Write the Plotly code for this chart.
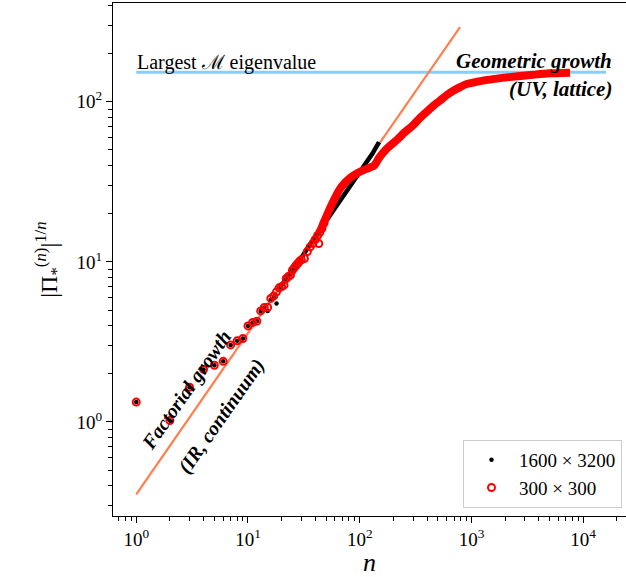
import plotly.graph_objects as go

# ---------------- data ----------------
# 1600 x 3200 lattice: isolated points at small n
black_n = [1, 2, 3, 4, 5, 6, 7, 8, 9, 10, 11, 12, 13, 14, 15, 16, 17, 18]
black_y = [1.33, 1.02, 1.65, 2.13, 2.26, 2.39, 3.03, 3.21, 3.32, 3.98, 4.18, 4.26, 4.94, 5.19, 4.94, 5.8, 6.0, 5.5]
# 1600 x 3200 lattice: dense part
black_dense_n = [19, 22, 25, 30, 35, 40, 50, 60, 70, 80, 90, 100, 115, 130, 149]
black_dense_y = [6.8, 7.8, 8.8, 10.6, 12.5, 14.3, 18.0, 21.8, 25.5, 29.2, 32.8, 36.5, 42.0, 47.5, 56.0]

# 300 x 300 lattice: isolated points
red_n = [1, 2, 3, 4, 5, 6, 7, 8, 9, 10, 11, 12, 13, 14, 15, 16, 17, 18, 19, 20,
         21, 22, 23, 24, 25, 26, 27, 28, 29, 30, 32, 34, 36, 38, 40, 42, 43, 44, 46, 48]
red_y = [1.33, 1.02, 1.65, 2.13, 2.26, 2.39, 3.03, 3.21, 3.32, 3.98, 4.18, 4.26, 4.94, 5.19, 5.2, 5.91, 6.13, 6.5, 6.88, 7.0,
         7.15, 7.87, 8.1, 8.26, 8.87, 9.2, 9.53, 9.8, 10.1, 10.3, 10.5, 11.6, 12.4, 13.0, 13.8, 14.6, 13.0, 15.3, 16.2, 17.5]
# 300 x 300 lattice: dense part
red_dense_n = [44, 48, 54, 60, 66, 74, 82, 95, 108, 122, 135, 150, 175, 214, 250, 301, 350, 400, 460, 526, 600,
               700, 800, 908, 1100, 1300, 1550, 1803, 2600, 3556, 5000, 7620]
red_dense_y = [15.3, 17.8, 21.5, 25.0, 28.3, 31.3, 33.5, 35.8, 37.4, 38.7, 40.0, 45.0, 51.0, 57.6, 64.0, 71.5, 80.0, 87.0, 95.0, 102.0, 110.0,
               118.0, 124.0, 129.0, 133.0, 136.0, 138.5, 140.5, 144.5, 147.5, 150.5, 152.0]

# reference lines
factorial_n = [1, 790]
factorial_y = [0.353, 293]
eigen_n = [1, 16000]
eigen_y = [153, 153]

x_tickvals = [1, 10, 100, 1000, 10000]
x_ticktext = ["10<sup>0</sup>", "10<sup>1</sup>", "10<sup>2</sup>", "10<sup>3</sup>", "10<sup>4</sup>"]
y_tickvals = [1, 10, 100]
y_ticktext = ["10<sup>0</sup>", "10<sup>1</sup>", "10<sup>2</sup>"]

FONT = "Liberation Serif"

fig = go.Figure()

fig.add_trace(go.Scatter(x=eigen_n, y=eigen_y, mode="lines",
                         line=dict(color="#87CEFA", width=3), showlegend=False, hoverinfo="skip"))
fig.add_trace(go.Scatter(x=factorial_n, y=factorial_y, mode="lines",
                         line=dict(color="#FF7F50", width=2.2), showlegend=False, hoverinfo="skip"))

# black
fig.add_trace(go.Scatter(x=black_dense_n, y=black_dense_y, mode="lines",
                         line=dict(color="black", width=4.5), legendgroup="b", showlegend=False))
fig.add_trace(go.Scatter(x=black_n, y=black_y, mode="markers", name="1600 × 3200",
                         marker=dict(color="black", size=4.5), legendgroup="b"))
# red
fig.add_trace(go.Scatter(x=red_dense_n, y=red_dense_y, mode="lines",
                         line=dict(color="red", width=8, shape="spline", smoothing=0.6),
                         legendgroup="r", showlegend=False))
fig.add_trace(go.Scatter(x=red_n, y=red_y, mode="markers", name="300 × 300",
                         marker=dict(symbol="circle-open", color="red", size=7, line=dict(width=2, color="red")),
                         legendgroup="r"))

def px_x(px):
    return (px - 113) / 513.0

def px_y(py):
    return (516 - py) / 513.0

annos = [
    dict(text="Largest ℳ eigenvalue", x=px_x(135), y=px_y(62), xanchor="left", yanchor="middle",
         font=dict(size=20, family=FONT, color="black")),
    dict(text="<b><i>Geometric growth</i></b>", x=px_x(614), y=px_y(61), xanchor="right", yanchor="middle",
         font=dict(size=21, family=FONT, color="black")),
    dict(text="<b><i>(UV, lattice)</i></b>", x=px_x(614), y=px_y(89), xanchor="right", yanchor="middle",
         font=dict(size=21, family=FONT, color="black")),
    dict(text="<b><i>Factorial growth</i></b>", x=px_x(186), y=px_y(390), xanchor="center", yanchor="middle",
         textangle=-55, font=dict(size=20, family=FONT, color="black")),
    dict(text="<b><i>(IR, continuum)</i></b>", x=px_x(221), y=px_y(416), xanchor="center", yanchor="middle",
         textangle=-55, font=dict(size=20, family=FONT, color="black")),
]
for a in annos:
    a.update(xref="paper", yref="paper", showarrow=False)

x_minor = [v * m for v in [0.1, 1, 10, 100, 1000, 10000] for m in range(2, 10)]
y_minor = [v * m for v in [0.1, 1, 10, 100] for m in range(2, 10)]

fig.update_layout(
    width=626, height=577,
    margin=dict(l=113, r=0, t=3, b=61),
    plot_bgcolor="white", paper_bgcolor="white",
    font=dict(family=FONT, size=18, color="black"),
    annotations=annos,
    legend=dict(x=px_x(622), y=px_y(508), xanchor="right", yanchor="bottom",
                bgcolor="white", bordercolor="#cccccc", borderwidth=1,
                tracegroupgap=0, itemwidth=45,
                font=dict(size=19, family=FONT)),
    xaxis=dict(type="log", range=[-0.208, 4.383], showgrid=False, zeroline=False,
               showline=True, linecolor="black", linewidth=1.2, mirror=True,
               ticks="outside", ticklen=6, tickwidth=1, tickcolor="black",
               tickvals=x_tickvals, ticktext=x_ticktext, tickfont=dict(size=19, family=FONT),
               minor=dict(tickvals=x_minor, ticks="outside", ticklen=3.5, tickcolor="black", showgrid=False),
               title=dict(text="<i>n</i>", font=dict(size=26, family=FONT), standoff=8)),
    yaxis=dict(type="log", range=[-0.5875, 2.617], showgrid=False, zeroline=False,
               showline=True, linecolor="black", linewidth=1.2, mirror=False,
               ticks="outside", ticklen=6, tickwidth=1, tickcolor="black",
               tickvals=y_tickvals, ticktext=y_ticktext, tickfont=dict(size=19, family=FONT),
               minor=dict(tickvals=y_minor, ticks="outside", ticklen=3.5, tickcolor="black", showgrid=False),
               title=dict(text="|Π<sub>*</sub><sup>(<i>n</i>)</sup>|<sup>1/<i>n</i></sup>",
                          font=dict(size=24, family=FONT), standoff=12)),
)

fig.write_html("out.html")
